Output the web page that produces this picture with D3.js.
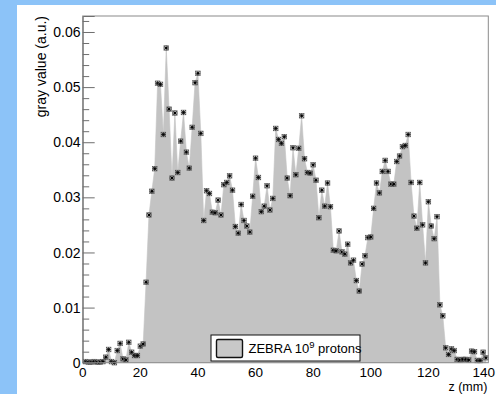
<!DOCTYPE html>
<html>
<head>
<meta charset="utf-8">
<script src="https://cdn.jsdelivr.net/npm/d3@7"></script>
<style>
  html, body { margin: 0; padding: 0; background: #8cc3f8; }
  svg { display: block; }
  text { font-family: "Liberation Sans", Arial, Helvetica, sans-serif; fill: #000; }
</style>
</head>
<body>
<svg id="chart" width="496" height="394"></svg>
<script>
// Depth profile positions along the beam axis (mm)
const zPositions = d3.range(1, 141);

// Gray value measured at each position (arbitrary units)
const grayValues = [
  0.0002, 0.0001, 0.0001, 0.0002, 0.0001, 0.0001, 0.0002, 0.0010, 0.0024, 0.0002,
  0.0000, 0.0022, 0.0035, 0.0007, 0.0005, 0.0037, 0.0019, 0.0013, 0.0013, 0.0030,
  0.0034, 0.0146, 0.0268, 0.0311, 0.0352, 0.0507, 0.0505, 0.0414, 0.0571, 0.0460,
  0.0335, 0.0453, 0.0345, 0.0402, 0.0454, 0.0382, 0.0353, 0.0427, 0.0508, 0.0525,
  0.0416, 0.0258, 0.0312, 0.0307, 0.0273, 0.0272, 0.0295, 0.0268, 0.0323, 0.0327,
  0.0339, 0.0313, 0.0247, 0.0235, 0.0287, 0.0258, 0.0248, 0.0237, 0.0302, 0.0371,
  0.0336, 0.0274, 0.0284, 0.0321, 0.0277, 0.0298, 0.0425, 0.0405, 0.0398, 0.0410,
  0.0335, 0.0303, 0.0390, 0.0341, 0.0389, 0.0448, 0.0370, 0.0345, 0.0344, 0.0359,
  0.0331, 0.0263, 0.0313, 0.0284, 0.0326, 0.0283, 0.0204, 0.0203, 0.0239, 0.0201,
  0.0197, 0.0215, 0.0181, 0.0186, 0.0149, 0.0130, 0.0179, 0.0194, 0.0227, 0.0228,
  0.0280, 0.0326, 0.0308, 0.0347, 0.0367, 0.0347, 0.0324, 0.0324, 0.0365, 0.0375,
  0.0392, 0.0394, 0.0414, 0.0327, 0.0266, 0.0244, 0.0327, 0.0250, 0.0181, 0.0292,
  0.0248, 0.0225, 0.0265, 0.0105, 0.0085, 0.0027, 0.0015, 0.0025, 0.0022, 0.0006,
  0.0005, 0.0006, 0.0006, 0.0005, 0.0021, 0.0020, 0.0004, 0.0004, 0.0019, 0.0009
];

// Axis ticks and labels
const xTicks = [0, 20, 40, 60, 80, 100, 120, 140];
const yTicks = [0, 0.01, 0.02, 0.03, 0.04, 0.05, 0.06];
const yMinorTicks = [0.002, 0.004, 0.006, 0.008, 0.012, 0.014, 0.016, 0.018,
  0.022, 0.024, 0.026, 0.028, 0.032, 0.034, 0.036, 0.038, 0.042, 0.044, 0.046, 0.048,
  0.052, 0.054, 0.056, 0.058, 0.062];
const xTitle = "z (mm)";
const yTitle = "gray value (a.u.)";
const legendLabel = "ZEBRA 10";
const legendSup = "9";
const legendTail = " protons";

const data = zPositions.map((z, i) => ({ z, v: grayValues[i] }));

const W = 496, H = 394;
const svg = d3.select("#chart");

// white canvas pad on the blue page
svg.append("rect")
  .attr("x", 17).attr("y", 5)
  .attr("width", W - 17).attr("height", H - 5)
  .attr("fill", "#ffffff");

const frame = { left: 82.7, top: 16, right: 488.3, bottom: 362.7 };

const x = d3.scaleLinear().domain([0, 140.8]).range([frame.left, frame.right]);
const y = d3.scaleLinear().domain([0, 0.0629]).range([frame.bottom, frame.top]);

// filled profile
const area = d3.area()
  .x(d => x(d.z))
  .y0(y(0))
  .y1(d => y(d.v));

svg.append("path")
  .datum(data)
  .attr("d", area)
  .attr("fill", "#c3c3c3")
  .attr("stroke", "#c3c3c3")
  .attr("stroke-width", 0.6);

// markers
const markers = svg.append("g").selectAll("g")
  .data(data)
  .join("g")
  .attr("transform", d => `translate(${x(d.z)},${y(d.v)})`);

markers.append("rect")
  .attr("x", -2.3).attr("y", -2.3)
  .attr("width", 4.6).attr("height", 4.6)
  .attr("fill", "none")
  .attr("stroke", "#666")
  .attr("stroke-width", 0.7);
markers.append("path")
  .attr("d", "M-2,-2L2,2M-2,2L2,-2M-2.3,0L2.3,0M0,-2.3L0,2.3")
  .attr("stroke", "#111")
  .attr("stroke-width", 0.8);
markers.append("rect")
  .attr("x", -1).attr("y", -1)
  .attr("width", 2).attr("height", 2)
  .attr("fill", "#000");

// frame
svg.append("rect")
  .attr("x", frame.left).attr("y", frame.top)
  .attr("width", frame.right - frame.left)
  .attr("height", frame.bottom - frame.top)
  .attr("fill", "none")
  .attr("stroke", "#8a8a8a")
  .attr("stroke-width", 1);

// left axis with inward ticks
const yAxis = d3.axisRight(y)
  .tickValues(yTicks)
  .tickSize(12)
  .tickFormat("");
const yAxisG = svg.append("g")
  .attr("transform", `translate(${frame.left},0)`)
  .call(yAxis);
yAxisG.select(".domain").attr("stroke", "#6f6f6f");
yAxisG.selectAll(".tick line").attr("stroke", "#6f6f6f");

const yMinor = d3.axisRight(y)
  .tickValues(yMinorTicks)
  .tickSize(6.5)
  .tickFormat("");
const yMinorG = svg.append("g")
  .attr("transform", `translate(${frame.left},0)`)
  .call(yMinor);
yMinorG.select(".domain").remove();
yMinorG.selectAll(".tick line").attr("stroke", "#6f6f6f");

// y tick labels
svg.append("g").selectAll("text")
  .data(yTicks)
  .join("text")
  .attr("x", 80.5)
  .attr("y", d => y(d))
  .attr("dy", "0.36em")
  .attr("text-anchor", "end")
  .attr("font-size", 14)
  .text(d => d === 0 ? "0" : d.toFixed(2));

// x tick labels (the last one is kept inside the page edge)
svg.append("g").selectAll("text")
  .data(xTicks)
  .join("text")
  .each(function (d) {
    const t = d3.select(this);
    const half = 11.4;
    if (x(d) + half > W - 1) {
      t.attr("x", W - 1).attr("text-anchor", "end");
    } else {
      t.attr("x", x(d)).attr("text-anchor", "middle");
    }
  })
  .attr("y", 377.0)
  .attr("font-size", 13.5)
  .text(d => d);

// axis titles
svg.append("text")
  .attr("x", 487.3)
  .attr("y", 391.3)
  .attr("text-anchor", "end")
  .attr("font-size", 12.5)
  .text(xTitle);

svg.append("text")
  .attr("transform", "translate(45.5,16) rotate(-90)")
  .attr("text-anchor", "end")
  .attr("font-size", 14)
  .text(yTitle);

// legend
const legend = svg.append("g");
legend.append("rect")
  .attr("x", 211).attr("y", 335)
  .attr("width", 149).attr("height", 26)
  .attr("fill", "#ffffff")
  .attr("stroke", "#111")
  .attr("stroke-width", 1);
legend.append("rect")
  .attr("x", 216.5).attr("y", 339.5)
  .attr("width", 26).attr("height", 18)
  .attr("rx", 1.5)
  .attr("fill", "#c8c8c8")
  .attr("stroke", "#111")
  .attr("stroke-width", 1.4);
const lt = legend.append("text")
  .attr("x", 248.5)
  .attr("y", 352.8)
  .attr("font-size", 13);
lt.append("tspan").text(legendLabel);
lt.append("tspan").attr("dy", -5).attr("font-size", 9.5).text(legendSup);
lt.append("tspan").attr("dy", 5).text(legendTail);
</script>
</body>
</html>
